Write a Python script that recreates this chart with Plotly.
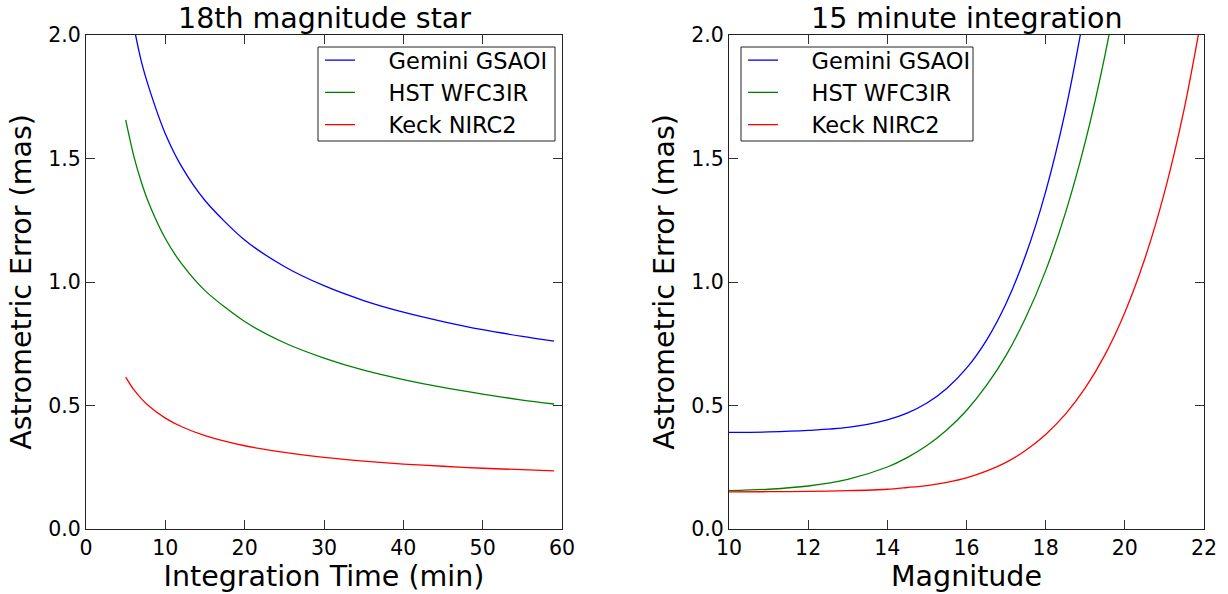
import plotly.graph_objects as go

# ---- Left panel: astrometric error vs integration time, 18th mag star ----
t_min = [5, 6, 7, 8, 10, 12, 15, 20, 25, 30, 35, 40, 45, 50, 55, 59]
t_gemini = [2.22, 2.04, 1.89, 1.78, 1.60, 1.47, 1.33, 1.17, 1.063, 0.985,
            0.925, 0.878, 0.840, 0.807, 0.780, 0.761]
t_hst = [1.656, 1.513, 1.402, 1.313, 1.176, 1.076, 0.965, 0.840, 0.754, 0.692,
         0.643, 0.605, 0.573, 0.546, 0.522, 0.506]
t_keck = [0.615, 0.565, 0.527, 0.496, 0.449, 0.415, 0.378, 0.337, 0.310, 0.290,
          0.275, 0.263, 0.254, 0.246, 0.240, 0.235]

# ---- Right panel: astrometric error vs magnitude, 15 minute integration ----
mag = [10, 11, 12, 13, 14, 14.5, 15, 15.5, 16, 16.5, 17, 17.5, 18, 18.5,
       19, 19.5, 20, 20.5, 21, 21.5, 22]
m_gemini = [0.391, 0.393, 0.399, 0.411, 0.442, 0.469, 0.510, 0.569, 0.651,
            0.763, 0.913, 1.111, 1.366, 1.694, 2.111, 2.60, 3.2, 3.9, 4.8, 5.9, 7.2]
m_hst = [0.155, 0.161, 0.174, 0.201, 0.251, 0.289, 0.338, 0.401, 0.480,
         0.580, 0.703, 0.857, 1.046, 1.280, 1.567, 1.920, 2.355, 2.9, 3.55, 4.35, 5.3]
m_keck = [0.150, 0.151, 0.152, 0.155, 0.161, 0.168, 0.176, 0.189, 0.207,
          0.234, 0.270, 0.319, 0.383, 0.465, 0.571, 0.706, 0.877, 1.092, 1.362,
          1.701, 2.126]

names = ["Gemini GSAOI", "HST WFC3IR", "Keck NIRC2"]
colors = ["#0000ff", "#008000", "#ff0000"]

FONT = "DejaVu Sans"
W, H = 1228, 594
PAD = "\u00a0" * 4  # gap between legend line sample and label

fig = go.Figure()

for name, col, ys in zip(names, colors, [t_gemini, t_hst, t_keck]):
    fig.add_trace(go.Scatter(
        x=t_min, y=ys, mode="lines", name=PAD + name,
        line=dict(color=col, width=1.3, shape="spline", smoothing=0.8),
        xaxis="x", yaxis="y", legend="legend"))

for name, col, ys in zip(names, colors, [m_gemini, m_hst, m_keck]):
    fig.add_trace(go.Scatter(
        x=mag, y=ys, mode="lines", name=PAD + name,
        line=dict(color=col, width=1.3, shape="spline", smoothing=0.8),
        xaxis="x2", yaxis="y2", legend="legend2"))

# plot-area pixel boxes
L1, R1 = 86, 562
L2, R2 = 729, 1204
TOP, BOT = 35, 529

def px(x):
    return x / W

def py(y):
    return 1 - y / H

axis_common = dict(
    showline=True, linecolor="#222222", linewidth=1.2, mirror="ticks",
    ticks="inside", ticklen=9, tickwidth=1, tickcolor="#333333",
    showgrid=False, zeroline=False, automargin=False,
    tickfont=dict(family=FONT, size=20.5, color="black"),
    title_font=dict(family=FONT, size=28.5, color="black"),
)

legend_common = dict(
    xanchor="left", yanchor="top",
    bgcolor="rgba(0,0,0,0)", borderwidth=0,
    font=dict(family=FONT, size=22.5, color="black"),
    itemwidth=30, tracegroupgap=0,
)

# legend frames (pixel boxes)
box1 = (318, 47, 555, 141)
box2 = (741, 47, 973, 141)

def frame(b):
    return dict(type="rect", xref="paper", yref="paper",
                x0=px(b[0]), x1=px(b[2]), y0=py(b[3]), y1=py(b[1]),
                line=dict(color="#222222", width=1),
                fillcolor="white", layer="above")

fig.update_layout(
    width=W, height=H,
    margin=dict(l=0, r=0, t=0, b=0),
    paper_bgcolor="white", plot_bgcolor="white",
    font=dict(family=FONT, color="black"),
    xaxis=dict(domain=[px(L1), px(R1)], range=[0, 60], dtick=10, tick0=0,
               anchor="y", title=dict(text="Integration Time (min)", standoff=6),
               ticklabelstandoff=0, **axis_common),
    yaxis=dict(domain=[py(BOT), py(TOP)], range=[0, 2], dtick=0.5, tick0=0,
               tickformat=".1f", anchor="x",
               title=dict(text="Astrometric Error (mas)", standoff=8),
               ticklabelstandoff=0, **axis_common),
    xaxis2=dict(domain=[px(L2), px(R2)], range=[10, 22], dtick=2, tick0=10,
                anchor="y2", title=dict(text="Magnitude", standoff=6),
                ticklabelstandoff=0, **axis_common),
    yaxis2=dict(domain=[py(BOT), py(TOP)], range=[0, 2], dtick=0.5, tick0=0,
                tickformat=".1f", anchor="x2",
                title=dict(text="Astrometric Error (mas)", standoff=8),
                ticklabelstandoff=0, **axis_common),
    legend=dict(x=px(box1[0] + 2), y=py(39), **legend_common),
    legend2=dict(x=px(box2[0] + 2), y=py(39), **legend_common),
    shapes=[frame(box1), frame(box2)],
    annotations=[
        dict(text="18th magnitude star", x=(px(L1) + px(R1)) / 2, y=py(TOP),
             xref="paper", yref="paper", xanchor="center", yanchor="bottom",
             yshift=-2, showarrow=False,
             font=dict(family=FONT, size=28.5, color="black")),
        dict(text="15 minute integration", x=(px(L2) + px(R2)) / 2, y=py(TOP),
             xref="paper", yref="paper", xanchor="center", yanchor="bottom",
             yshift=-2, showarrow=False,
             font=dict(family=FONT, size=28.5, color="black")),
    ],
)

fig.write_html("out.html")
